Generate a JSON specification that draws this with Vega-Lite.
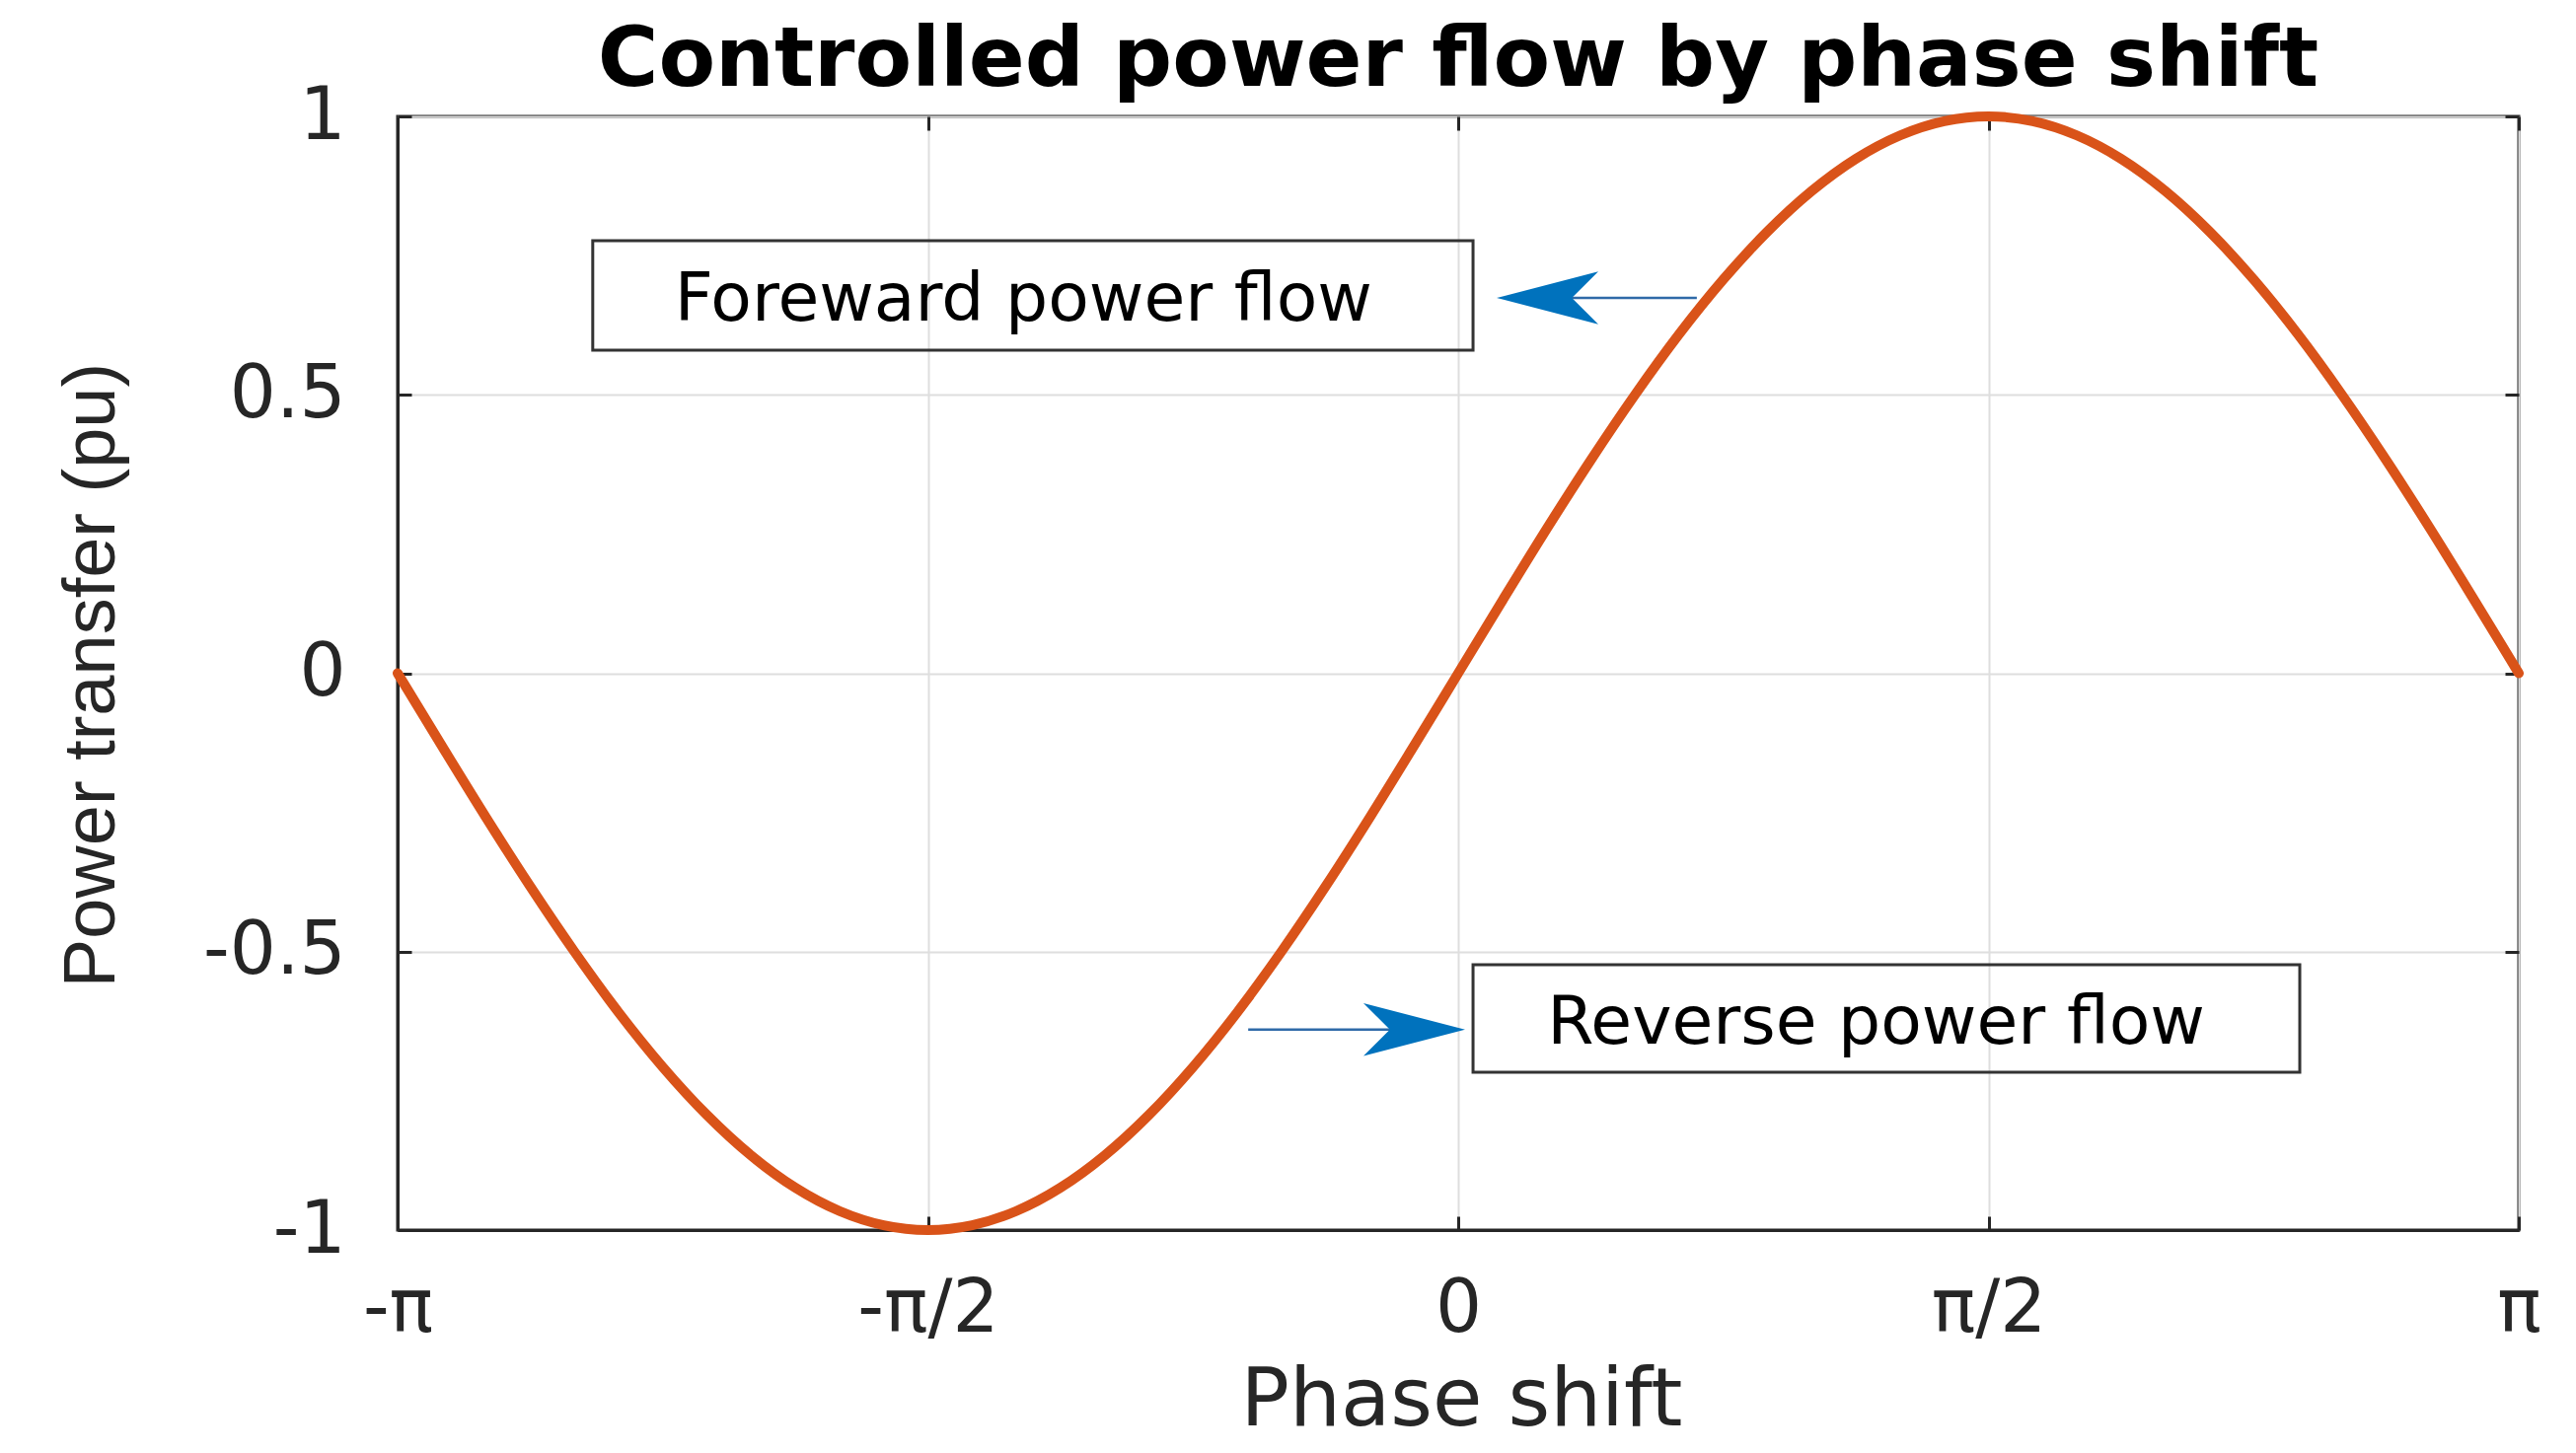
{
  "$schema": "https://vega.github.io/schema/vega-lite/v6.json",
  "width": 2150,
  "height": 1129,
  "autosize": {"type": "none"},
  "padding": {"left": 403, "top": 118, "right": 58, "bottom": 226},
  "background": "white",
  "view": {"stroke": "#262626", "strokeWidth": 3},
  "title": {
    "text": "Controlled power flow by phase shift",
    "font": "DejaVu Sans",
    "fontSize": 84,
    "fontWeight": "bold",
    "color": "#000000",
    "anchor": "middle",
    "frame": "group",
    "offset": -24
  },
  "config": {
    "view": {"stroke": "#262626", "strokeWidth": 3}
  },
  "resolve": {"axis": {"x": "independent", "y": "independent"}},
  "datasets": {
    "curve": [
      {"phase": -1, "power": 0},
      {"phase": -0.9583, "power": -0.1305},
      {"phase": -0.9167, "power": -0.2588},
      {"phase": -0.875, "power": -0.3827},
      {"phase": -0.8333, "power": -0.5},
      {"phase": -0.7917, "power": -0.6088},
      {"phase": -0.75, "power": -0.7071},
      {"phase": -0.7083, "power": -0.7934},
      {"phase": -0.6667, "power": -0.866},
      {"phase": -0.625, "power": -0.9239},
      {"phase": -0.5833, "power": -0.9659},
      {"phase": -0.5417, "power": -0.9914},
      {"phase": -0.5, "power": -1},
      {"phase": -0.4583, "power": -0.9914},
      {"phase": -0.4167, "power": -0.9659},
      {"phase": -0.375, "power": -0.9239},
      {"phase": -0.3333, "power": -0.866},
      {"phase": -0.2917, "power": -0.7934},
      {"phase": -0.25, "power": -0.7071},
      {"phase": -0.2083, "power": -0.6088},
      {"phase": -0.1667, "power": -0.5},
      {"phase": -0.125, "power": -0.3827},
      {"phase": -0.0833, "power": -0.2588},
      {"phase": -0.0417, "power": -0.1305},
      {"phase": 0, "power": 0},
      {"phase": 0.0417, "power": 0.1305},
      {"phase": 0.0833, "power": 0.2588},
      {"phase": 0.125, "power": 0.3827},
      {"phase": 0.1667, "power": 0.5},
      {"phase": 0.2083, "power": 0.6088},
      {"phase": 0.25, "power": 0.7071},
      {"phase": 0.2917, "power": 0.7934},
      {"phase": 0.3333, "power": 0.866},
      {"phase": 0.375, "power": 0.9239},
      {"phase": 0.4167, "power": 0.9659},
      {"phase": 0.4583, "power": 0.9914},
      {"phase": 0.5, "power": 1},
      {"phase": 0.5417, "power": 0.9914},
      {"phase": 0.5833, "power": 0.9659},
      {"phase": 0.625, "power": 0.9239},
      {"phase": 0.6667, "power": 0.866},
      {"phase": 0.7083, "power": 0.7934},
      {"phase": 0.75, "power": 0.7071},
      {"phase": 0.7917, "power": 0.6088},
      {"phase": 0.8333, "power": 0.5},
      {"phase": 0.875, "power": 0.3827},
      {"phase": 0.9167, "power": 0.2588},
      {"phase": 0.9583, "power": 0.1305},
      {"phase": 1, "power": 0}
    ],
    "boxes": [
      {"x1": -0.816, "x2": 0.014, "y1": 0.777, "y2": 0.58},
      {"x1": 0.014, "x2": 0.7935, "y1": -0.5235, "y2": -0.7165}
    ],
    "labels": [
      {"phase": -0.41, "power": 0.669, "label": "Foreward power flow"},
      {"phase": 0.394, "power": -0.629, "label": "Reverse power flow"}
    ],
    "shafts": [
      {"x1": 0.225, "x2": 0.09, "y": 0.674},
      {"x1": -0.198, "x2": -0.03, "y": -0.64}
    ],
    "headLeft": [{"phase": 0.0363, "power": 0.674}],
    "headRight": [{"phase": 0.0065, "power": -0.64}]
  },
  "layer": [
    {
      "data": {"name": "boxes"},
      "mark": {"type": "rect", "filled": false, "stroke": "#333333", "strokeWidth": 3},
      "encoding": {
        "x": {
          "field": "x1", "type": "quantitative",
          "scale": {"domain": [-1, 1], "nice": false, "zero": false},
          "axis": {"orient": "bottom", "offset": -14, "values": [-1, -0.5, 0, 0.5, 1], "labels": false, "grid": false, "domain": false, "ticks": true, "tickSize": 14, "tickWidth": 3, "tickColor": "#262626", "title": null}
        },
        "x2": {"field": "x2"},
        "y": {
          "field": "y1", "type": "quantitative",
          "scale": {"domain": [-1, 1], "nice": false, "zero": false},
          "axis": {"orient": "left", "offset": -14, "values": [-1, -0.5, 0, 0.5, 1], "labels": false, "grid": false, "domain": false, "ticks": true, "tickSize": 14, "tickWidth": 3, "tickColor": "#262626", "title": null}
        },
        "y2": {"field": "y2"}
      }
    },
    {
      "data": {"name": "labels"},
      "mark": {"type": "text", "font": "DejaVu Sans", "fontSize": 68, "color": "#000000", "align": "center", "baseline": "middle"},
      "encoding": {
        "x": {
          "field": "phase", "type": "quantitative",
          "axis": {"orient": "top", "offset": -14, "values": [-1, -0.5, 0, 0.5, 1], "labels": false, "grid": false, "domain": false, "ticks": true, "tickSize": 14, "tickWidth": 3, "tickColor": "#262626", "title": null}
        },
        "y": {
          "field": "power", "type": "quantitative",
          "axis": {"orient": "right", "offset": -14, "values": [-1, -0.5, 0, 0.5, 1], "labels": false, "grid": false, "domain": false, "ticks": true, "tickSize": 14, "tickWidth": 3, "tickColor": "#262626", "title": null}
        },
        "text": {"field": "label"}
      }
    },
    {
      "data": {"name": "curve"},
      "mark": {"type": "line", "color": "#D95319", "strokeWidth": 10, "interpolate": "monotone", "strokeJoin": "round", "strokeCap": "round", "clip": false},
      "encoding": {
        "x": {
          "field": "phase",
          "type": "quantitative",
          "axis": {
            "orient": "bottom",
            "title": "Phase shift",
            "values": [-1, -0.5, 0, 0.5, 1],
            "labelExpr": "datum.value == -1 ? '-π' : datum.value == -0.5 ? '-π/2' : datum.value == 0 ? '0' : datum.value == 0.5 ? 'π/2' : 'π'",
            "labelFlush": false,
            "labelOverlap": false,
            "labelFont": "DejaVu Sans",
            "labelFontSize": 74,
            "labelColor": "#262626",
            "labelPadding": 44,
            "ticks": false,
            "domain": true,
            "domainColor": "#262626",
            "domainWidth": 3,
            "grid": true,
            "gridColor": "#dedede",
            "gridWidth": 2,
            "titleFont": "DejaVu Sans",
            "titleFontSize": 82,
            "titleFontWeight": "normal",
            "titleColor": "#262626",
            "titleBaseline": "alphabetic",
            "titleX": 1078,
            "titleY": 197
          }
        },
        "y": {
          "field": "power",
          "type": "quantitative",
          "axis": {
            "orient": "left",
            "title": "Power transfer (pu)",
            "values": [-1, -0.5, 0, 0.5, 1],
            "labelExpr": "toString(datum.value)",
            "labelOverlap": false,
            "labelFont": "DejaVu Sans",
            "labelFontSize": 74,
            "labelColor": "#262626",
            "labelPadding": 53,
            "ticks": false,
            "domain": true,
            "domainColor": "#262626",
            "domainWidth": 3,
            "grid": true,
            "gridColor": "#dedede",
            "gridWidth": 2,
            "titleFont": "Liberation Sans",
            "titleFontSize": 74,
            "titleFontWeight": "normal",
            "titleColor": "#262626",
            "titleAngle": 270,
            "titleBaseline": "alphabetic",
            "titleX": -288,
            "titleY": 566
          }
        }
      }
    },
    {
      "data": {"name": "shafts"},
      "mark": {"type": "rule", "color": "#2f6aa8", "strokeWidth": 2.5},
      "encoding": {
        "x": {"field": "x1", "type": "quantitative", "axis": null},
        "x2": {"field": "x2"},
        "y": {"field": "y", "type": "quantitative", "axis": null}
      }
    },
    {
      "data": {"name": "headLeft"},
      "mark": {"type": "point", "shape": "M0,0 L2,-0.52 L1.48,0 L2,0.52 Z", "size": 10609, "filled": true, "fill": "#0072BD", "opacity": 1, "strokeWidth": 0},
      "encoding": {
        "x": {"field": "phase", "type": "quantitative", "axis": null},
        "y": {"field": "power", "type": "quantitative", "axis": null}
      }
    },
    {
      "data": {"name": "headRight"},
      "mark": {"type": "point", "shape": "M0,0 L-2,-0.52 L-1.48,0 L-2,0.52 Z", "size": 10609, "filled": true, "fill": "#0072BD", "opacity": 1, "strokeWidth": 0},
      "encoding": {
        "x": {"field": "phase", "type": "quantitative", "axis": null},
        "y": {"field": "power", "type": "quantitative", "axis": null}
      }
    }
  ]
}
